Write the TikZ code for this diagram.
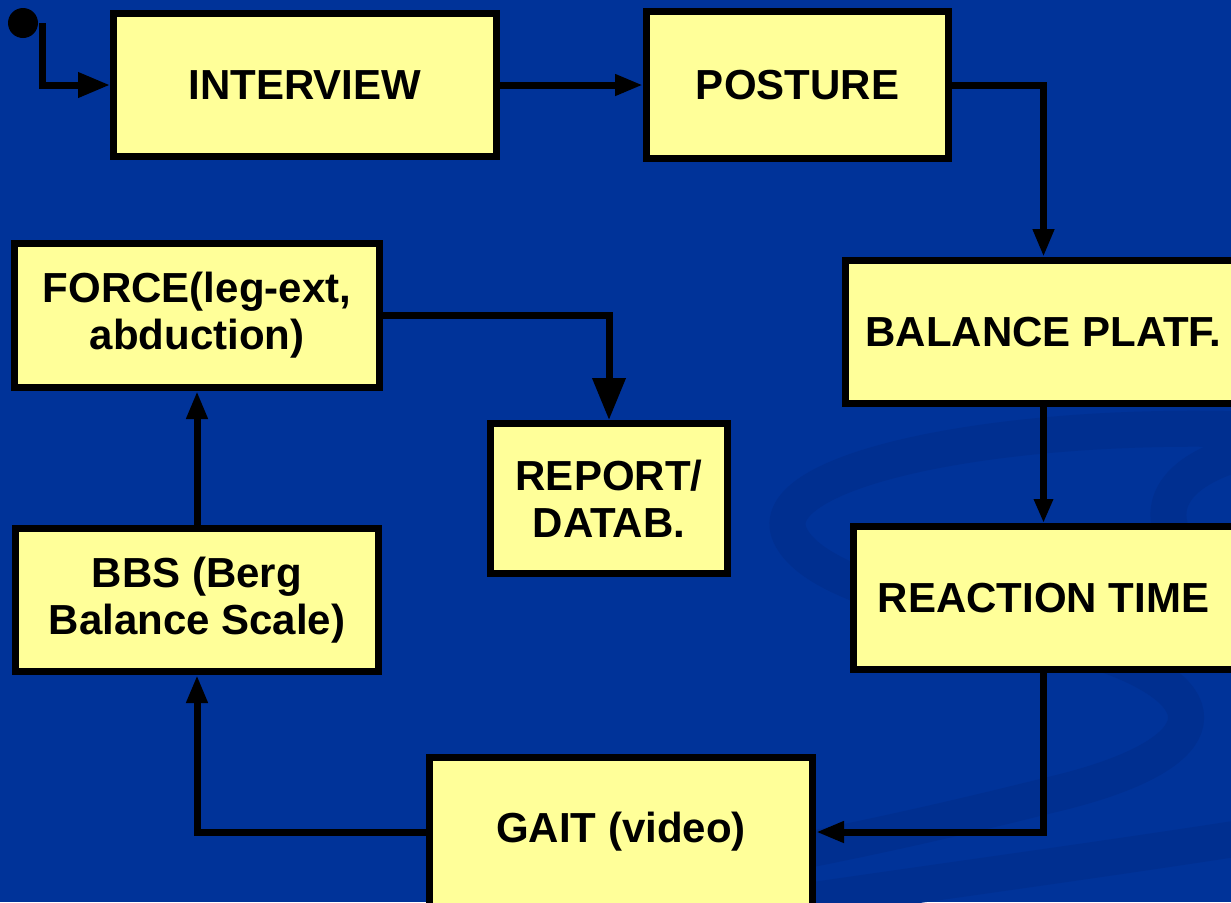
\documentclass[tikz,border=0pt]{standalone}
\usepackage{fontspec}
\setmainfont{Liberation Sans}
\usetikzlibrary{arrows.meta}
\definecolor{bgblue}{RGB}{0,51,153}
\definecolor{swirlblue}{RGB}{0,47,144}
\definecolor{boxyellow}{RGB}{255,255,153}
\begin{document}
\begin{tikzpicture}[x=0.5pt,y=-0.5pt,
  box/.style={draw=black,fill=boxyellow,line width=3.5pt,inner sep=0pt,
    align=center,font=\fontsize{21}{23.5}\selectfont\bfseries},
  conn/.style={draw=black,line width=3.5pt,
    -{Triangle[length=14pt,width=10pt]}},
  swirl/.style={draw=swirlblue,line width=18pt,line cap=round}]
\fill[bgblue] (0,0) rectangle (1231,902);
\useasboundingbox (0,0) rectangle (1231,902);
% background swirl
\begin{scope}
\clip (0,0) rectangle (1231,902);
\draw[swirl] (1260,430) .. controls (1000,420) and (760,470) .. (790,535)
  .. controls (820,600) and (1020,620) .. (1120,660)
  .. controls (1230,705) and (1200,760) .. (1050,795)
  .. controls (950,820) and (860,840) .. (780,855);
\draw[swirl] (1260,448) .. controls (1200,460) and (1150,490) .. (1175,540);
\draw[swirl] (1260,835) .. controls (1100,860) and (950,880) .. (780,905);
\end{scope}
% nodes
\node[box,minimum width=191.5pt,minimum height=71.5pt] (interview) at (305,85) {INTERVIEW};
\node[box,minimum width=151pt,minimum height=73.5pt] (posture) at (797.5,85) {POSTURE};
\node[box,minimum width=198pt,minimum height=71.5pt] (balance) at (1043.5,332) {BALANCE PLATF.};
\node[box,minimum width=190.5pt,minimum height=71.5pt] (reaction) at (1043.5,598) {REACTION TIME};
\node[box,minimum width=182.5pt,minimum height=72pt] (force) at (197,315.5) {FORCE(leg-ext,\\abduction)};
\node[box,minimum width=118.5pt,minimum height=75pt] (report) at (609,498.5) {REPORT/\\DATAB.};
\node[box,minimum width=181.5pt,minimum height=71.5pt] (bbs) at (197,600) {BBS (Berg\\Balance Scale)};
\node[box,minimum width=191.5pt,minimum height=74.5pt] (gait) at (621,832) {GAIT (video)};
\node[circle,fill=black,inner sep=0pt,minimum size=15pt] (start) at (23,23) {};
\coordinate (s1) at (42,23);
% connectors
\draw[conn,-{Triangle[length=16pt,width=12pt]}] (s1) |- (interview.west);
\draw[conn] (interview.east) -- (posture.west);
\draw[conn] (posture.east) -| (balance.north);
\draw[conn,-{Triangle[length=12pt,width=9pt]}] (balance.south) -- (reaction.north);
\draw[conn] (reaction.south) |- (gait.east);
\draw[conn] (gait.west) -| (bbs.south);
\draw[conn] (bbs.north) -- (force.south);
\draw[conn,-{Triangle[length=21pt,width=16pt]}] (force.east) -| (report.north);
\end{tikzpicture}
\end{document}
